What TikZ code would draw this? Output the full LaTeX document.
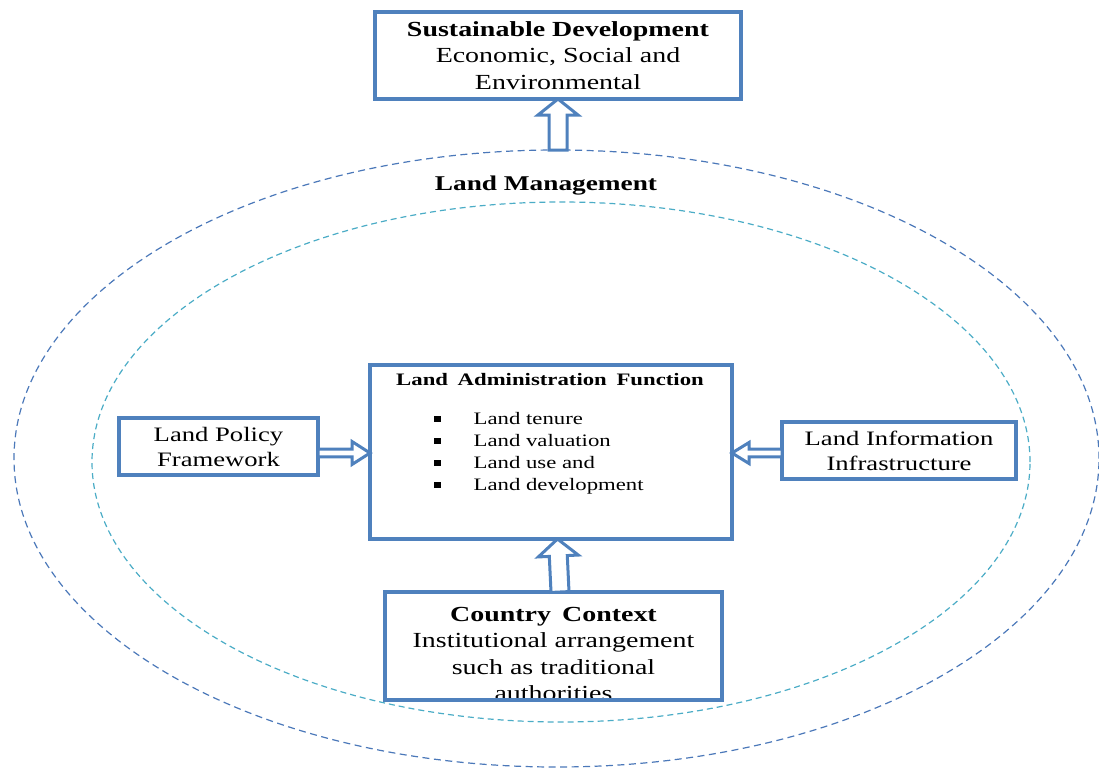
\documentclass[tikz,border=0pt]{standalone}
\usepackage{fontspec}
\setmainfont{Liberation Serif}[FakeStretch=1.3]
\usetikzlibrary{calc}
\definecolor{boxblue}{RGB}{79,129,189}
\definecolor{ringblue}{RGB}{75,120,185}
\definecolor{ringteal}{RGB}{75,172,198}
\newcommand\sqbul{\rule[2.5pt]{6.5pt}{5.5pt}\hspace{33pt}}
\tikzset{
  box/.style={draw=boxblue, line width=3.5pt, fill=white, outer sep=0pt, inner sep=0pt},
  big/.style={font=\fontsize{21.5}{26.5}\selectfont, align=center},
  mid/.style={font=\fontsize{20.5}{25}\selectfont, align=center},
  small/.style={font=\fontsize{17.5}{22}\selectfont},
  ring/.style={dash pattern=on 7pt off 4.5pt, line width=1.2pt},
  hollow/.style n args={3}{draw=boxblue, line width=3pt, fill=white,
    to path={($(\tikztostart)!#1!90:(\tikztotarget)$)
      -- ($(\tikztotarget)!#3!(\tikztostart)!#1!-90:(\tikztostart)$)
      -- ($(\tikztotarget)!#3!(\tikztostart)!#2!-90:(\tikztostart)$)
      -- (\tikztotarget)
      -- ($(\tikztotarget)!#3!(\tikztostart)!#2!90:(\tikztostart)$)
      -- ($(\tikztotarget)!#3!(\tikztostart)!#1!90:(\tikztostart)$)
      -- ($(\tikztostart)!#1!-90:(\tikztotarget)$) -- cycle}}
}
\begin{document}
\begin{tikzpicture}[x=1pt, y=-1pt]
\useasboundingbox (0,0) rectangle (1099,769);
\draw[ring, ringblue] (556.5,458.5) ellipse [x radius=542.5pt, y radius=308.5pt];
\draw[ring, ringteal, dash pattern=on 6pt off 4pt] (561,462) ellipse [x radius=469pt, y radius=260pt];
\node[box, big, minimum width=366pt, minimum height=87pt] (sd) at (558,55.5) {\textbf{Sustainable Development}\\Economic, Social and\\Environmental};
\node[anchor=base, font=\fontsize{21}{25}\selectfont\bfseries] (lm) at (546,190) {Land Management};
\node[box, minimum width=362pt, minimum height=174pt] (adm) at (551,452) {};
\node[anchor=base, font=\fontsize{17.5}{22}\selectfont\bfseries] (admt) at (550,385) {Land\hspace{4pt} Administration\hspace{4pt} Function};
\node[small, align=left, anchor=north west, inner sep=0pt] (admlist) at (434,412) {\sqbul Land tenure\\\sqbul Land valuation\\\sqbul Land use and\\\sqbul Land development};
\node[box, mid, minimum width=199pt, minimum height=57pt] (pol) at (218.5,446.5) {Land Policy\\Framework};
\node[box, mid, minimum width=234pt, minimum height=57pt] (inf) at (899,450.5) {Land Information\\Infrastructure};
\node[box, minimum width=337pt, minimum height=108pt] (ctx) at (553.5,646) {};
\node[big, anchor=south, text depth=0pt, inner sep=0pt] (ctxt) at ([yshift=-1pt]ctx.south) {\textbf{Country\hspace{4pt} Context}\\Institutional arrangement\\such as traditional\\authorities};
\draw[draw=boxblue, line width=3.5pt] (ctx.south west) -- (ctx.south east);
\coordinate (lmtop) at (558,150);
\coordinate (pl) at ([yshift=-6.5pt]pol.east);
\coordinate (ir) at ([yshift=-2.5pt]inf.west);
\draw[hollow={9pt}{20pt}{16pt}] (lmtop) to (sd.south);
\draw[hollow={9pt}{20pt}{17pt}] ([xshift=6.5pt]ctx.north) to ([xshift=6.5pt]adm.south);
\draw[hollow={3.9pt}{11.5pt}{18pt}] (pl) to (pl -| adm.west);
\draw[hollow={3.9pt}{10.5pt}{17pt}] (ir) to (ir -| adm.east);
\end{tikzpicture}
\end{document}
